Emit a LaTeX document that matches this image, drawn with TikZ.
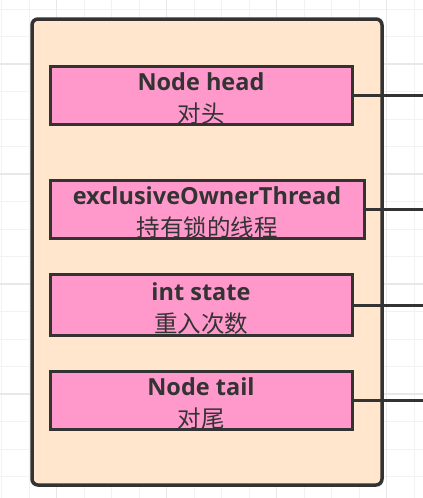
\documentclass[tikz,border=0pt]{standalone}
\usepackage{fontspec}
\setmainfont{Open Sans}
\newfontfamily\cjk{Noto Sans CJK SC}
\usepackage{tikz}
\usetikzlibrary{positioning,calc}
\definecolor{peach}{HTML}{FFE6CC}
\definecolor{pinkf}{HTML}{FF99CC}
\definecolor{ink}{HTML}{333333}
\definecolor{gridmin}{HTML}{F2F2F2}
\definecolor{gridmaj}{HTML}{E8E8E8}
\tikzset{
  wire/.style    = {draw=ink, line width=3pt},
  frame/.style   = {draw=ink, fill=peach, line width=3.5pt, rounded corners=6pt,
                    minimum width=350pt, minimum height=466pt, inner sep=0pt},
  fieldbox/.style= {draw=ink, fill=pinkf, line width=3pt, minimum width=302pt,
                    minimum height=57pt, inner sep=0pt, align=center, text=ink,
                    font=\fontsize{23.5}{30}\selectfont},
}
\newcommand{\fld}[2]{\rule{0pt}{24pt}{\bfseries #1}\\[2pt]{\cjk\fontsize{23.5}{30}\selectfont #2}}

\begin{document}
\begin{tikzpicture}[x=1pt,y=-1pt]
  \useasboundingbox (0,0) rectangle (423,498);
  % background grid
  \foreach \k in {0,...,15} \draw[gridmin, line width=1.2pt] (1.8+27.5*\k,0) -- (1.8+27.5*\k,498);
  \foreach \k in {0,...,17} \draw[gridmin, line width=1.2pt] (0,9.3+27.5*\k) -- (423,9.3+27.5*\k);
  \foreach \k in {0,...,3} \draw[gridmaj, line width=1.2pt] (56.7+110*\k,0) -- (56.7+110*\k,498);
  \foreach \k in {0,...,4} \draw[gridmaj, line width=1.2pt] (0,64+110*\k) -- (423,64+110*\k);
  % the object and its fields
  \node[frame] (obj) at (207,252) {};
  \node[fieldbox] (head) at (201,95.5) {\fld{Node head}{对头}};
  \node[fieldbox, minimum width=314pt] (owner) at (207,209.5) {\fld{exclusiveOwnerThread}{持有锁的线程}};
  \node[fieldbox, minimum height=61pt] (state) at (201,305) {\fld{int state}{重入次数}};
  \node[fieldbox, minimum height=58pt] (tail) at (201,400) {\fld{Node tail}{对尾}};
  \coordinate (edge) at (423,0);
  \foreach \f in {head,owner,state,tail}
    \draw[wire] (\f.east) -- (\f.east -| edge);
\end{tikzpicture}
\end{document}
